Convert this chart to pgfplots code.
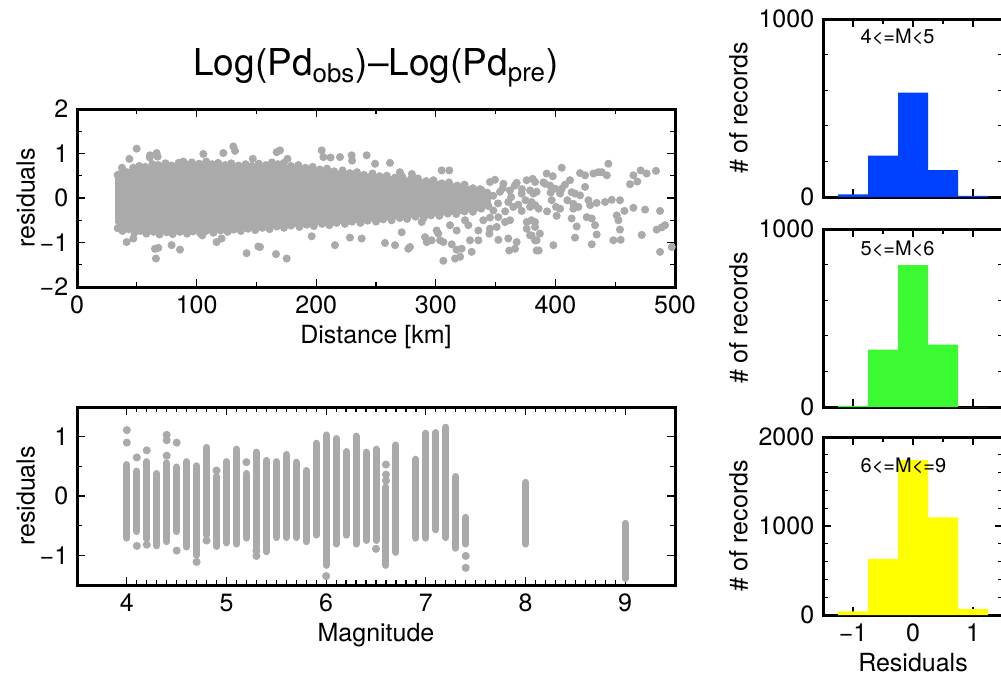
\documentclass[border=0pt]{standalone}
\usepackage{fontspec}
\setmainfont{TeX Gyre Heros}
\usepackage{pgfplots}
\pgfplotsset{compat=1.18}
\definecolor{dotgray}{RGB}{170,170,170}
\definecolor{hblue}{RGB}{0,64,255}
\definecolor{hgreen}{RGB}{60,250,50}
\definecolor{hyellow}{RGB}{255,255,0}
\pgfplotsset{
  common/.style={scale only axis,
    axis line style={line width=1.2pt},
    tick style={black, line width=0.5pt},
    major tick length=3.2pt, minor tick length=2pt,
    tick label style={font=\fontsize{10}{12}\selectfont},
    label style={font=\fontsize{10}{12}\selectfont},
    xlabel style={yshift=2.2pt},
    /pgf/number format/assume math mode=true,
    /pgf/number format/1000 sep={}},
  dots/.style={dotgray, only marks, mark=*, mark size=1.4pt},
  leftax/.style={ylabel style={yshift=-5pt}},
  histax/.style={ylabel style={yshift=-2.6pt}},
}
\begin{document}
\begin{tikzpicture}
% ---------- Distance scatter ----------
\begin{axis}[common, leftax, at={(30.8pt,156.8pt)}, anchor=south west, width=239.2pt, height=71.2pt,
  xmin=0, xmax=500, ymin=-2, ymax=2,
  xtick={0,100,200,300,400,500}, minor x tick num=1,
  ytick={-2,-1,0,1,2}, yticklabels={−2,−1,0,1,2}, minor y tick num=1,
  xlabel={Distance [km]}, ylabel={residuals}]
\addplot[fill=dotgray, draw=dotgray, line width=1pt] coordinates {
 (33,0.45) (36,0.55) (45,0.62) (55,0.70) (70,0.73) (90,0.75) (110,0.76) (130,0.74) (150,0.72)
 (165,0.75) (180,0.70) (200,0.64) (220,0.58) (240,0.52) (260,0.47) (280,0.42) (300,0.36)
 (320,0.28) (335,0.20) (345,0.08)
 (345,-0.15) (335,-0.26) (320,-0.33) (300,-0.38) (280,-0.42) (260,-0.47) (240,-0.51)
 (220,-0.55) (200,-0.58) (180,-0.62) (160,-0.66) (140,-0.70) (120,-0.73) (100,-0.75)
 (80,-0.77) (60,-0.76) (45,-0.72) (36,-0.66) (33,-0.55)} -- cycle;
% edge points
\addplot[dots] coordinates {
 (34,0.52) (38,0.60) (42,0.58) (47,0.68) (52,0.72) (57,0.70) (63,0.76) (68,0.74) (74,0.78)
 (79,0.73) (85,0.79) (91,0.76) (96,0.80) (102,0.77) (108,0.82) (113,0.76) (118,0.79)
 (124,0.74) (129,0.78) (135,0.73) (141,0.76) (146,0.72) (152,0.77) (158,0.74) (163,0.80)
 (168,0.76) (173,0.79) (179,0.72) (185,0.74) (191,0.68) (197,0.70) (203,0.64) (209,0.66)
 (215,0.60) (222,0.62) (228,0.56) (234,0.58) (240,0.52) (247,0.55) (253,0.49) (259,0.50)
 (266,0.46) (272,0.48) (279,0.42) (285,0.44) (292,0.38) (298,0.40) (305,0.33) (311,0.35)
 (318,0.28) (324,0.30) (331,0.22) (337,0.20) (343,0.12)
 (34,-0.68) (38,-0.74) (43,-0.70) (48,-0.78) (53,-0.74) (58,-0.80) (64,-0.76) (69,-0.82)
 (75,-0.77) (80,-0.81) (86,-0.76) (92,-0.80) (97,-0.75) (103,-0.79) (108,-0.74) (114,-0.78)
 (120,-0.73) (126,-0.76) (131,-0.71) (137,-0.74) (143,-0.69) (149,-0.72) (155,-0.67)
 (161,-0.70) (167,-0.64) (173,-0.67) (179,-0.62) (186,-0.65) (192,-0.60) (198,-0.63)
 (205,-0.58) (211,-0.61) (217,-0.56) (224,-0.58) (230,-0.53) (237,-0.56) (243,-0.51)
 (250,-0.53) (256,-0.48) (263,-0.50) (270,-0.45) (276,-0.47) (283,-0.42) (290,-0.44)
 (296,-0.39) (303,-0.40) (310,-0.35) (317,-0.36) (324,-0.30) (331,-0.31) (338,-0.24)
 (344,-0.18)
};
% outliers
\addplot[dots] coordinates {
 (37.6,0.68) (43.8,0.88) (49.9,1.11) (60.9,0.91) (61,0.96) (66.6,1.01) (67.4,0.93) (88.9,0.82)
 (105.6,0.99) (122.3,1.01) (130.7,1.16) (132.1,1.06) (147,0.88) (166.9,1.03) (169.7,1.07)
 (176,0.88) (204.6,1.07) (206,0.92) (212,0.91) (219.9,0.92) (229.6,0.96) (230,0.84)
 (242.2,0.96) (249.2,0.77) (261.7,0.79) (270,0.58) (280,0.54) (304.9,0.62) (311.3,0.62)
 (41.5,-0.99) (47.1,-0.91) (65.2,-1.14) (68,-1.12) (66,-1.36) (79.1,-1.06) (86.1,-1.16)
 (104.8,-0.84) (116.7,-0.99) (120.9,-0.91) (141.8,-1.24) (151.6,-1.09) (153,-1.10)
 (166.4,-1.26) (175.3,-1.36) (196.2,-0.86) (215.7,-1.06) (228.2,-0.89) (238,-0.91)
 (257.5,-1.01) (265.9,-1.06) (277,-1.14) (278.4,-1.10) (271.5,-0.77) (288.2,-0.54)
 (291,-0.88) (292.4,-0.99) (296.5,-0.95) (300.7,-0.73) (302.1,-0.80) (303.5,-0.95)
 (306.3,-0.99) (306.3,-1.41) (311.9,-0.61) (313.3,-1.04) (316.1,-1.36) (317.4,-0.73)
 (317.4,-1.16) (320.3,-1.32) (321.6,-1.14) (324.4,-0.50) (327.2,-0.61) (328.6,-0.95)
 (330,-1.21) (335.6,-0.73) (335.6,-0.95) (338.4,0.17) (339.7,-0.50) (342.5,-0.05)
 (344.8,-0.80) (345.3,0.36) (345.3,-0.44) (345.3,-0.69) (348.1,-0.28) (348,0.05)
 (349.5,0.41) (350.9,-0.65) (352.3,-0.43) (352.3,-0.94) (352,-0.12) (353.7,0.14)
 (356.5,0.32) (356,0.22) (357.9,-0.54) (358,-0.30) (360.6,-0.09) (360.6,-0.91)
 (361.4,-1.18) (362,0.17) (362,-0.50) (363,0.02) (364.8,-0.20) (366.2,-1.14) (366,0.28)
 (367.6,0.34) (367.6,-0.99) (369,-0.15) (371.8,0.10) (371.8,-0.29) (372,0.20) (375,-0.05)
 (376,0.40) (376,-0.54) (376,-0.69) (378.8,0.17) (378.8,-0.20) (378.8,-0.84) (383,0.36)
 (383,-0.54) (384.3,0.14) (384.3,-0.95) (384.3,-1.18)
 (381,0.43) (381.6,0.10) (380,-0.09) (383,-0.16) (386,-0.24) (380,-0.50) (383,-0.65)
 (380,-0.84) (387,-0.80) (383,-0.95) (386,-1.18) (392.7,0.55) (397.8,0.49) (405.3,0.68)
 (395.5,0.28) (391.3,0.32) (399.7,0.21) (403.9,0.10) (405.3,0.21) (396.9,-0.05)
 (400.5,-0.20) (403.9,-0.24) (398.3,-1.06) (412.2,0.40) (413.6,0.13) (420.6,0.56)
 (424.8,0.51) (424.8,0.25) (416.4,0.10) (420.6,0.06) (415,-0.13) (415,-0.24) (419.2,-0.20)
 (413.6,-0.46) (417.8,-0.64) (416.4,-0.89) (427.6,-0.05) (429,-0.16) (426.2,-0.43)
 (430.4,-0.46) (433.2,-0.61) (434.5,-0.82) (430.4,-1.04) (431.8,0.55) (435.9,0.58)
 (438.7,0.58) (443,0.51) (444.3,0.77) (434.5,-0.11) (441.5,-0.09) (447.1,-0.04)
 (454,-0.05) (451.3,-0.39) (452.7,-0.50) (454,-0.71) (448.5,-0.95) (454.6,-0.94)
 (457.7,-0.29) (465.2,-0.22) (472.2,-0.83) (475,-0.26) (462.4,0.31) (468.5,0.37)
 (465.2,0.51) (471.3,0.62) (476.3,0.55) (484.1,0.61) (487.5,-0.29) (484.7,-0.71)
 (488.9,-0.66) (491.7,-0.61) (487.5,-1.21) (497.3,-1.10) (390,0.35) (393,-0.30)
 (396,0.12) (401,-0.40) (408,0.30) (410,-0.05)
};
\end{axis}
\node[font=\fontsize{14.8}{17}\selectfont] at (150.4pt,244.4pt) {Log(Pd\textsubscript{obs})–Log(Pd\textsubscript{pre})};
% ---------- Magnitude scatter ----------
\begin{axis}[common, leftax, at={(30.8pt,37.6pt)}, anchor=south west, width=239.2pt, height=71.2pt,
  xmin=3.5, xmax=9.5, ymin=-1.5, ymax=1.5,
  xtick={4,5,6,7,8,9}, minor x tick num=9,
  ytick={-1,0,1}, yticklabels={−1,0,1}, minor y tick num=1,
  xlabel={Magnitude}, ylabel={residuals}, unbounded coords=jump]
\addplot[dotgray, line width=2.8pt, line cap=round, mark=none] coordinates {
 (4.0,-0.71) (4.0,0.53) (4.0,nan)
 (4.1,-0.60) (4.1,0.42) (4.1,nan)
 (4.2,-0.72) (4.2,0.58) (4.2,nan)
 (4.3,-0.84) (4.3,0.38) (4.3,nan)
 (4.4,-0.77) (4.4,0.56) (4.4,nan)
 (4.5,-0.60) (4.5,0.49) (4.5,nan)
 (4.6,-0.86) (4.6,0.58) (4.6,nan)
 (4.7,-1.00) (4.7,0.51) (4.7,nan)
 (4.8,-0.66) (4.8,0.82) (4.8,nan)
 (4.9,-0.85) (4.9,0.33) (4.9,nan)
 (5.0,-0.79) (5.0,0.58) (5.0,nan)
 (5.1,-0.81) (5.1,0.79) (5.1,nan)
 (5.2,-0.71) (5.2,0.38) (5.2,nan)
 (5.3,-0.86) (5.3,0.74) (5.3,nan)
 (5.4,-0.94) (5.4,0.60) (5.4,nan)
 (5.5,-0.70) (5.5,0.58) (5.5,nan)
 (5.6,-0.70) (5.6,0.70) (5.6,nan)
 (5.7,-0.70) (5.7,0.57) (5.7,nan)
 (5.8,-0.77) (5.8,0.43) (5.8,nan)
 (5.9,-0.66) (5.9,0.89) (5.9,nan)
 (6.0,-1.17) (6.0,1.03) (6.0,nan)
 (6.1,-0.81) (6.1,0.97) (6.1,nan)
 (6.2,-0.66) (6.2,0.75) (6.2,nan)
 (6.3,-0.81) (6.3,1.01) (6.3,nan)
 (6.4,-0.75) (6.4,0.74) (6.4,nan)
 (6.5,-0.75) (6.5,0.79) (6.5,nan)
 (6.6,-1.17) (6.6,0.15) (6.6,nan)
 (6.7,-0.95) (6.7,0.86) (6.7,nan)
 (6.9,-0.71) (6.9,0.62) (6.9,nan)
 (7.0,-0.71) (7.0,1.06) (7.0,nan)
 (7.1,-0.57) (7.1,1.07) (7.1,nan)
 (7.2,-0.70) (7.2,1.16) (7.2,nan)
 (7.3,-0.88) (7.3,0.33) (7.3,nan)
 (7.4,-0.81) (7.4,-0.36) (7.4,nan)
 (8.0,-0.81) (8.0,0.23) (8.0,nan)
 (9.0,-1.39) (9.0,-0.46)
};
\addplot[dots] coordinates {
 (4.0,1.11) (4.0,0.90) (4.1,0.65) (4.1,-0.84) (4.2,0.77) (4.2,-0.82) (4.4,1.03) (4.4,0.94)
 (4.4,0.68) (4.5,0.90) (4.5,-0.92) (4.7,-1.11) (4.8,-0.75) (4.9,0.43) (5.2,0.57)
 (5.3,-0.92) (5.3,-1.01) (6.0,-1.35) (6.5,-0.89) (6.6,0.53) (6.6,0.36) (6.6,0.26)
 (7.4,-1.01) (7.4,-1.21)
};
\end{axis}
% ---------- Histograms ----------
\begin{axis}[common, histax, at={(329.2pt,192.8pt)}, anchor=south west, width=72pt, height=71.2pt,
  xmin=-1.5, xmax=1.5, ymin=0, ymax=1000,
  xtick={-1,0,1}, xticklabels={}, minor x tick num=1,
  ytick={0,1000}, yticklabels={0,1000}, minor y tick num=4,
  ylabel={\# of records}]
\addplot[ybar interval, fill=hblue, draw=none] coordinates {
 (-1.25,15) (-0.75,232) (-0.25,587) (0.25,151) (0.75,7) (1.25,7)};
\node[anchor=west, font=\fontsize{8}{10}\selectfont] at (rel axis cs:0.16,0.9) {4<=M<5};
\end{axis}
\begin{axis}[common, histax, at={(329.2pt,108.8pt)}, anchor=south west, width=72pt, height=71.2pt,
  xmin=-1.5, xmax=1.5, ymin=0, ymax=1000,
  xtick={-1,0,1}, xticklabels={}, minor x tick num=1,
  ytick={0,1000}, yticklabels={0,1000}, minor y tick num=4,
  ylabel={\# of records}]
\addplot[ybar interval, fill=hgreen, draw=none] coordinates {
 (-1.25,7) (-0.75,323) (-0.25,797) (0.25,351) (0.75,0) (1.25,0)};
\node[anchor=west, font=\fontsize{8}{10}\selectfont] at (rel axis cs:0.16,0.89) {5<=M<6};
\end{axis}
\begin{axis}[common, histax, at={(329.2pt,25.6pt)}, anchor=south west, width=72pt, height=71.2pt,
  xmin=-1.5, xmax=1.5, ymin=0, ymax=2000,
  xtick={-1,0,1}, xticklabels={−1,0,1}, minor x tick num=1,
  ytick={0,1000,2000}, yticklabels={0,1000,2000}, minor y tick num=4,
  xlabel={Residuals}, ylabel={\# of records}]
\addplot[ybar interval, fill=hyellow, draw=none] coordinates {
 (-1.25,40) (-0.75,630) (-0.25,1741) (0.25,1096) (0.75,67) (1.25,67)};
\node[anchor=west, font=\fontsize{8}{10}\selectfont] at (rel axis cs:0.16,0.84) {6<=M<=9};
\end{axis}
\pgfresetboundingbox
\path[use as bounding box] (0pt,0pt) rectangle (400.4pt,271.6pt);
\end{tikzpicture}
\end{document}
